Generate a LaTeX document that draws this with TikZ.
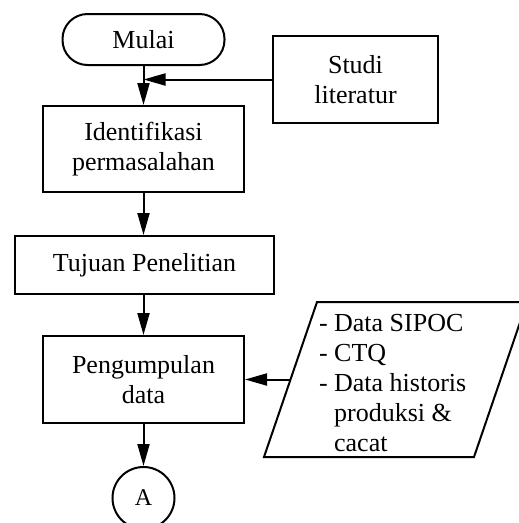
\documentclass[tikz,border=0pt]{standalone}
\usepackage{fontspec}
\setmainfont{Liberation Serif}
\usetikzlibrary{arrows.meta}
\begin{document}
\begin{tikzpicture}[x=1pt,y=-1pt,line width=2pt,
  every node/.style={font=\fontsize{26}{30}\selectfont},
  box/.style={draw,align=center,inner sep=0pt},
  flow/.style={-{Triangle[length=22pt,width=12pt]}}]
\clip (0,0) rectangle (519,523);
% process boxes
\node[box,rounded corners=25pt,minimum width=162pt,minimum height=51pt] (mulai) at (143.5,39.5) {Mulai};
\node[box,minimum width=165pt,minimum height=87pt] (studi) at (355.5,79.5) {Studi\\literatur};
\node[box,minimum width=201pt,minimum height=86pt] (ident) at (143.5,149) {Identifikasi\\permasalahan};
\node[box,minimum width=259pt,minimum height=58pt] (tujuan) at (144.5,265) {Tujuan Penelitian};
\node[box,minimum width=201pt,minimum height=87pt] (kumpul) at (143.5,379.5) {Pengumpulan\\data};
% data input (parallelogram)
\draw[line join=miter] (264,457) -- (474,457) -- (527,302) -- (317,302) -- cycle;
\coordinate (dataleft) at (290.5,379.5);
\node[align=left,anchor=west,inner sep=0pt] (datatext) at (318,383)
  {- Data SIPOC\\- CTQ\\- Data historis\\\phantom{- }produksi \&\\\phantom{- }cacat};
% off-page connector
\node[draw,circle,minimum size=62pt,inner sep=0pt,font=\fontsize{24}{28}\selectfont] (a) at (143.5,498) {A};
% flow lines
\draw[flow] (mulai.south) -- (ident.north);
\draw[flow] (studi.west) -- (studi.west -| mulai.south);
\draw[flow] (ident.south) -- (tujuan.north -| ident.south);
\draw[flow] (tujuan.south -| kumpul.north) -- (kumpul.north);
\draw[flow] (dataleft) -- (kumpul.east);
\draw[flow] (kumpul.south) -- (a.north);
\end{tikzpicture}
\end{document}
